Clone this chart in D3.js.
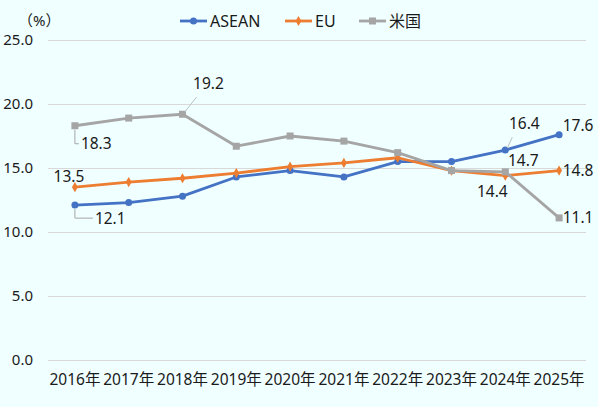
<!DOCTYPE html>
<html>
<head>
<meta charset="utf-8">
<script src="https://cdn.jsdelivr.net/npm/d3@7"></script>
<style>
  body { margin: 0; background: #F0FFFF; }
  svg text { font-family: "Noto Sans", "Noto Sans CJK JP", sans-serif; fill: #1a1a1a; }
</style>
</head>
<body>
<svg id="chart" width="598" height="407"></svg>
<script>
const years = ["2016年", "2017年", "2018年", "2019年", "2020年", "2021年", "2022年", "2023年", "2024年", "2025年"];
const asean = [12.1, 12.3, 12.8, 14.3, 14.8, 14.3, 15.5, 15.5, 16.4, 17.6];
const eu = [13.5, 13.9, 14.2, 14.6, 15.1, 15.4, 15.8, 14.8, 14.4, 14.8];
const us = [18.3, 18.9, 19.2, 16.7, 17.5, 17.1, 16.2, 14.8, 14.7, 11.1];
const yTicks = [0, 5, 10, 15, 20, 25];

const series = [
    { name: "ASEAN", values: asean, color: "#4472C4", marker: "circle" },
    { name: "EU", values: eu, color: "#ED7D31", marker: "diamond" },
    { name: "米国", values: us, color: "#A5A5A5", marker: "square" }
];

// which points get a value label, and where it sits relative to the point
const labels = [
    { s: 2, i: 0, dx: 12, dy: 18, leader: "elbow" },
    { s: 2, i: 2, dx: 26, dy: -31, leader: "diag" },
    { s: 1, i: 0, dx: -6, dy: -11, leader: null },
    { s: 0, i: 0, dx: 26, dy: 13, leader: "elbow" },
    { s: 0, i: 8, dx: 19, dy: -27, leader: "diag" },
    { s: 0, i: 9, dx: 19, dy: -9, leader: null },
    { s: 2, i: 8, dx: 18, dy: -11, leader: null },
    { s: 1, i: 9, dx: 19, dy: 0, leader: null },
    { s: 1, i: 8, dx: -13, dy: 16, leader: null },
    { s: 2, i: 9, dx: 19, dy: 0, leader: null }
];

const svg = d3.select("#chart");
const area = { left: 48, right: 586, top: 40, bottom: 360 };

const scaleX = d3.scaleBand()
    .domain(years)
    .range([area.left, area.right]);

const scaleY = d3.scaleLinear()
    .domain([0, 25])
    .range([area.bottom, area.top]);

const cx = d => scaleX(d) + scaleX.bandwidth() / 2;

svg.append("rect")
    .attr("width", 598).attr("height", 407)
    .attr("fill", "#F0FFFF");

// grid + y labels
const axisY = d3.axisLeft(scaleY)
    .tickValues(yTicks)
    .tickSize(-(area.right - area.left))
    .tickFormat(d3.format(".1f"))
    .tickPadding(15);

const gY = svg.append("g")
    .attr("transform", `translate(${area.left}, 0)`)
    .call(axisY);
gY.select(".domain").remove();
gY.selectAll("line").attr("stroke", "#D9D9D9").attr("stroke-width", 1);
gY.selectAll("text")
    .style("font-size", "15px")
    .attr("fill", "#1a1a1a");

// x labels
const axisX = d3.axisBottom(scaleX).tickSize(0).tickPadding(14);
const gX = svg.append("g")
    .attr("transform", `translate(0, ${area.bottom})`)
    .call(axisX);
gX.select(".domain").remove();
gX.selectAll("text")
    .style("font-size", "15.5px")
    .attr("fill", "#1a1a1a");

svg.append("text")
    .attr("x", 18).attr("y", 26)
    .style("font-size", "15px")
    .text("（%）");

const line = d3.line()
    .x((d, i) => cx(years[i]))
    .y(d => scaleY(d));

function drawMarker(g, type, x, y, color) {
    if (type === "circle") {
        g.append("circle").attr("cx", x).attr("cy", y).attr("r", 3.5).attr("fill", color);
    } else if (type === "diamond") {
        g.append("path")
            .attr("d", d3.symbol(d3.symbolDiamond, 30)())
            .attr("transform", `translate(${x}, ${y})`)
            .attr("fill", color);
    } else {
        g.append("rect").attr("x", x - 3.5).attr("y", y - 3.5)
            .attr("width", 7).attr("height", 7).attr("fill", color);
    }
}

// draw order: ASEAN, EU, US on top
series.forEach(s => {
    const g = svg.append("g");
    g.append("path")
        .datum(s.values)
        .attr("fill", "none")
        .attr("stroke", s.color)
        .attr("stroke-width", 2.8)
        .attr("stroke-linejoin", "round")
        .attr("d", line);
    s.values.forEach((v, i) => drawMarker(g, s.marker, cx(years[i]), scaleY(v), s.color));
});

// value labels
const lg = svg.append("g");
labels.forEach(l => {
    const v = series[l.s].values[l.i];
    const x = cx(years[l.i]);
    const y = scaleY(v);
    const tx = x + l.dx;
    const ty = y + l.dy;
    if (l.leader === "elbow") {
        lg.append("path")
            .attr("d", `M${x},${y + 4}V${ty}H${tx - 8}`)
            .attr("fill", "none").attr("stroke", "#A6A6A6").attr("stroke-width", 1);
    } else if (l.leader === "diag") {
        lg.append("line")
            .attr("x1", x + 2).attr("y1", y - 2)
            .attr("x2", tx - 12).attr("y2", ty + 14)
            .attr("stroke", "#BFBFBF").attr("stroke-width", 1);
    }
    lg.append("text")
        .attr("x", l.leader === "elbow" ? tx - 6 : tx)
        .attr("y", ty)
        .attr("dy", "0.35em")
        .attr("text-anchor", l.leader === "elbow" ? "start" : "middle")
        .style("font-size", "15.5px")
        .text(v.toFixed(1));
});

// legend
const legendX = [180, 285, 359];
series.forEach((s, i) => {
    const g = svg.append("g").attr("transform", `translate(${legendX[i]}, 21)`);
    g.append("line").attr("x1", 0).attr("x2", 27)
        .attr("stroke", s.color).attr("stroke-width", 2.8);
    drawMarker(g, s.marker, 13.5, 0, s.color);
    g.append("text").attr("x", 30).attr("dy", "0.35em")
        .style("font-size", "16px")
        .text(s.name);
});
</script>
</body>
</html>
